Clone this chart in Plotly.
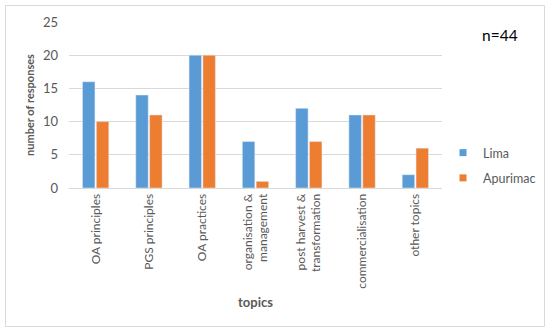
import plotly.graph_objects as go

categories = ["OA principles", "PGS principles", "OA practices",
              "organisation &<br>management", "post harvest &<br>transformation",
              "commercialisation", "other topics"]
series_names = ["Lima", "Apurimac"]
lima = [16, 14, 20, 7, 12, 11, 2]
apurimac = [10, 11, 20, 1, 7, 11, 6]
colors = ["#5B9BD5", "#ED7D31"]

FONT = "Lato, Open Sans, sans-serif"
fig = go.Figure()
for name, vals, col in zip(series_names, [lima, apurimac], colors):
    fig.add_trace(go.Bar(x=categories, y=vals, name=name, marker_color=col,
                         showlegend=False))
for i, (name, col) in enumerate(zip(series_names, colors)):
    fig.add_trace(go.Scatter(x=[None], y=[None], mode="markers", name=name,
                             legendgroup=f"g{i}",
                             marker=dict(symbol="square", size=7, color=col)))

L, R, T, B = 69, 108, 22, 145
W, H = 550, 333
pw, ph = W - L - R, H - T - B

def px(x):
    return (x - L) / pw

def py(y):
    return (H - B - y) / ph

fig.add_shape(type="rect", xref="paper", yref="paper",
              x0=px(5.5), x1=px(544.5), y0=py(326.5), y1=py(5.5),
              line=dict(color="#D9D9D9", width=1), layer="above")
fig.add_annotation(text="n=44", xref="paper", yref="paper", x=px(500), y=py(35),
                   xanchor="center", yanchor="middle",
                   showarrow=False, font=dict(size=15.5, color="#000000", family=FONT))

fig.update_layout(
    width=W, height=H,
    margin=dict(l=L, r=R, t=T, b=B, autoexpand=False),
    paper_bgcolor="white", plot_bgcolor="white",
    barmode="group", bargap=0.48, bargroupgap=0.1,
    font=dict(family=FONT, color="#595959"),
    legend=dict(x=px(443), y=py(138), xanchor="left", yanchor="top",
                font=dict(size=12.5, color="#595959"), traceorder="grouped",
                tracegroupgap=6, itemwidth=30),
    xaxis=dict(tickangle=-90, tickfont=dict(size=12, color="#595959"),
               automargin=False,
               title=dict(text="<b>topics</b>", font=dict(size=13, color="#595959"),
                          standoff=10),
               showline=True, linecolor="#D9D9D9", ticks=""),
    yaxis=dict(range=[0, 25], dtick=5, tickfont=dict(size=13, color="#595959"),
               gridcolor="#D9D9D9", zeroline=False, automargin=False,
               ticklabelstandoff=10,
               title=dict(text="<b>number of responses</b>",
                          font=dict(size=11, color="#595959"), standoff=6)),
    showlegend=True,
)
fig.write_html("out.html", config={"displayModeBar": False},
               post_script="document.body.style.margin='0';")
